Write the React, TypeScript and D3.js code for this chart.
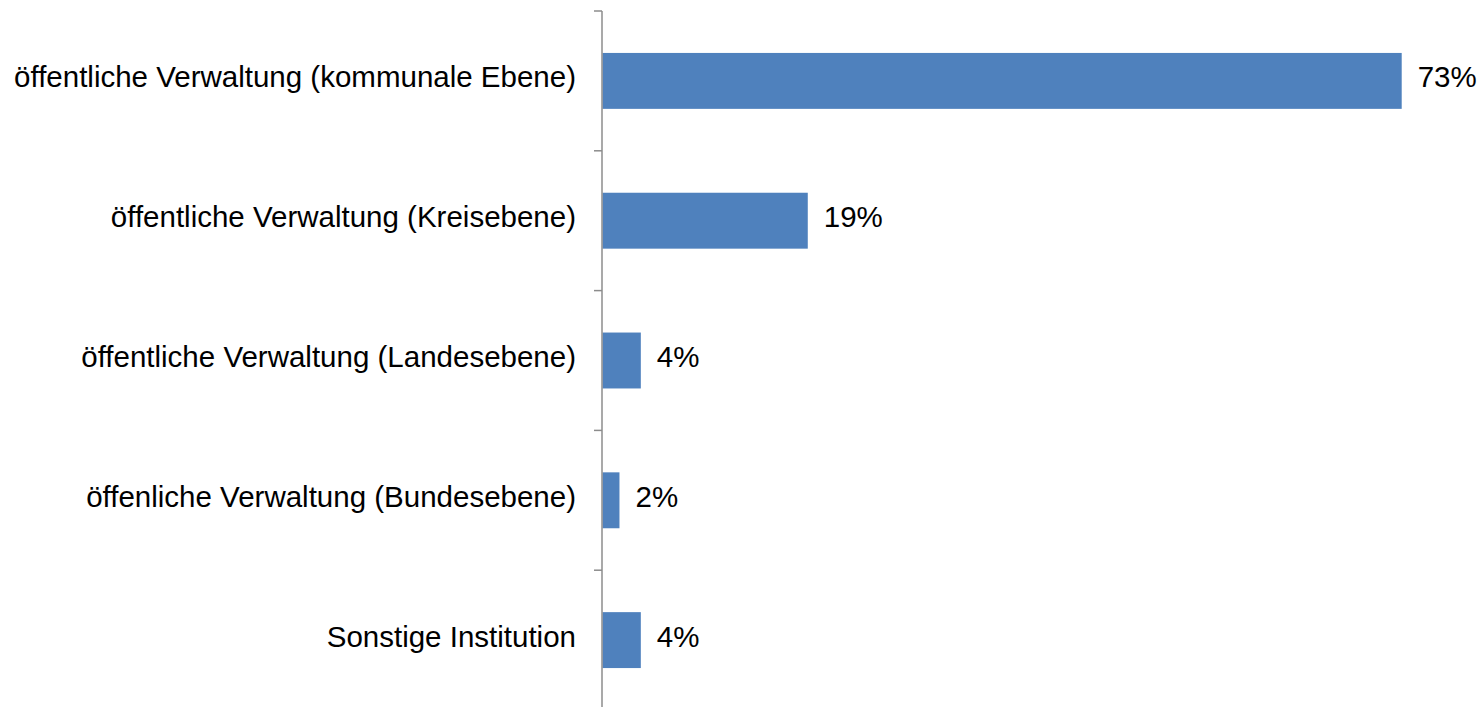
import React from "react";
import * as d3 from "d3";

const categories = [
  "öffentliche Verwaltung (kommunale Ebene)",
  "öffentliche Verwaltung (Kreisebene)",
  "öffentliche Verwaltung (Landesebene)",
  "öffenliche Verwaltung (Bundesebene)",
  "Sonstige Institution",
];
const values = [73.0, 18.75, 3.5, 1.55, 3.5];
const valueLabels = ["73%", "19%", "4%", "2%", "4%"];

const W = 1484;
const H = 707;
const x0 = 602.5;
const pxPerPct = 10.948;

export default function App() {
  const x = d3.scaleLinear().domain([0, 80]).range([x0, x0 + 80 * pxPerPct]);
  const y = d3.scaleBand<string>().domain(categories).range([11, 710]).padding(0);
  const bw = y.bandwidth();
  const barH = bw * 0.4;
  const font = "'Liberation Sans', Arial, sans-serif";
  const ticks = [...categories.map((c) => y(c)!), 710];
  const fs = 29.5;

  return (
    <svg
      width={W}
      height={H}
      style={{ position: "absolute", left: 0, top: 0, background: "#fff" }}
      fontFamily={font}
    >
      {categories.map((c, i) => {
        const cy = y(c)! + bw / 2;
        return (
          <g key={c}>
            <rect
              x={x(0)}
              y={cy - barH / 2}
              width={x(values[i]) - x(0)}
              height={barH}
              fill="#4F81BD"
            />
            <text x={576} y={cy + 6.5} textAnchor="end" fontSize={fs} fill="#000">
              {c}
            </text>
            <text x={x(values[i]) + 16} y={cy + 6.5} fontSize={fs} fill="#000">
              {valueLabels[i]}
            </text>
          </g>
        );
      })}
      <line x1={602} x2={602} y1={11} y2={H} stroke="#8C8C8C" strokeWidth={1.5} />
      {ticks.map((t, i) => (
        <line key={i} x1={594} x2={602} y1={t} y2={t} stroke="#8C8C8C" strokeWidth={1.5} />
      ))}
    </svg>
  );
}
